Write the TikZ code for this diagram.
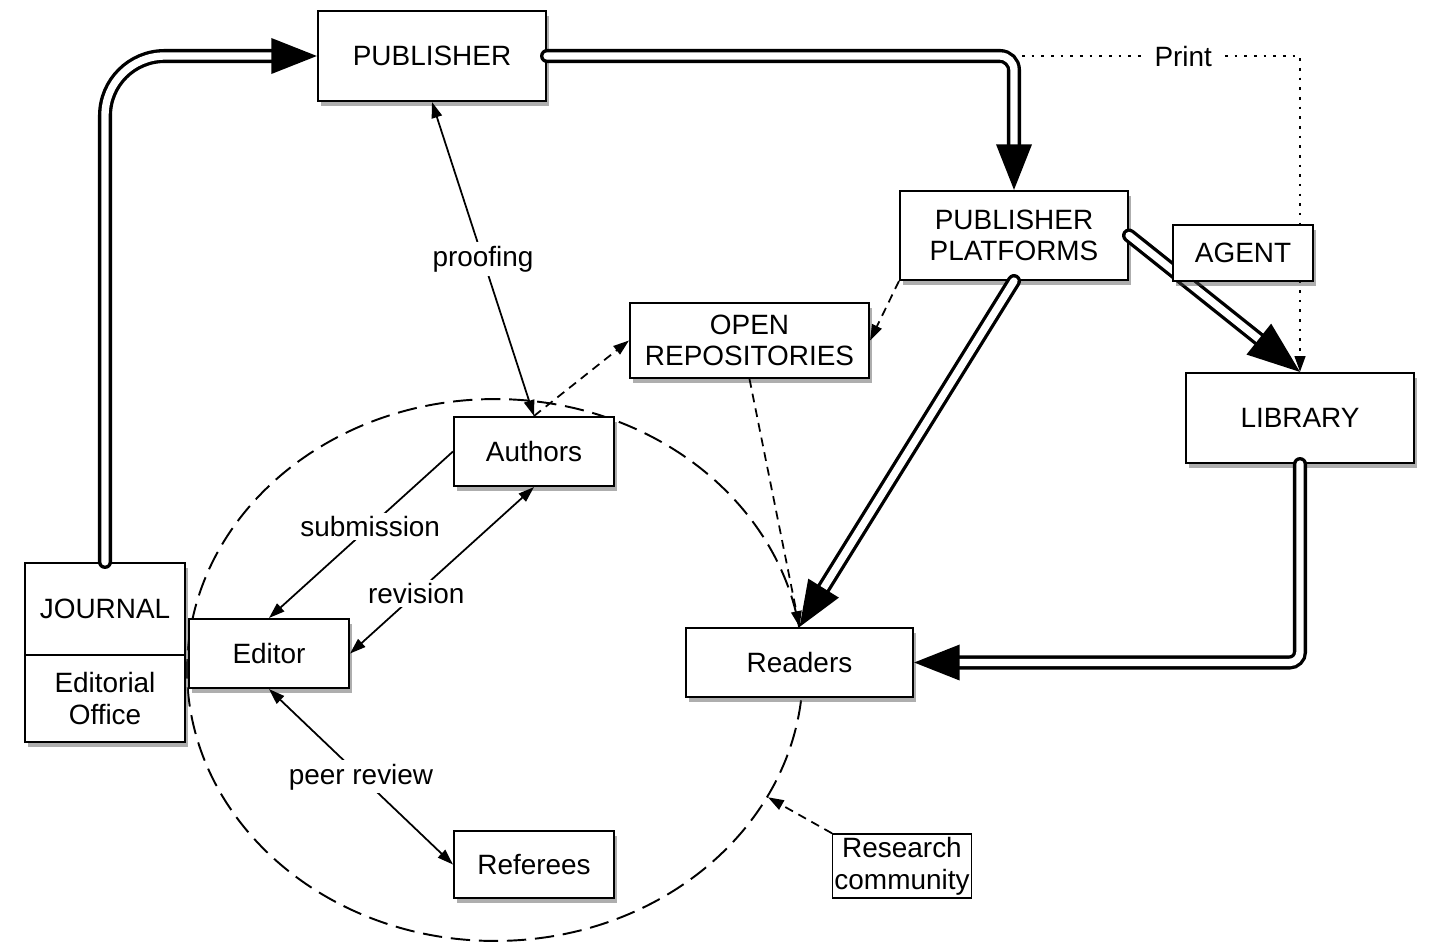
\documentclass[tikz,border=0pt]{standalone}
\usepackage{fontspec}
\setsansfont{Liberation Sans}
\usetikzlibrary{positioning,arrows.meta,shapes.geometric,shadows}
\pgfdeclarelayer{bg}
\pgfsetlayers{bg,main}
\tikzset{
	>={Triangle[length=9pt, width=6pt]}
}

\begin{document}
\begin{tikzpicture}[
	x = 0.02cm, y = -0.02cm,
	every node/.style = {
		font = \sffamily\fontsize{15.9pt}{18pt}\selectfont
	},
	plainbox/.style = {
		draw,
		line width = 1.2pt,
		fill = white,
		align = center
	},
	box/.style = {
		plainbox,
		drop shadow = {shadow xshift = 1.8pt, shadow yshift = -3pt, fill = black!70, opacity = .45}
	},
	pipe/.style = {
		draw,
		double = white,
		double distance = 4.2pt,
		line width = 1.9pt,
		line cap = round,
		-{Triangle[length = 26pt, width = 20pt]}
	},
	flow/.style = {
		draw,
		line width = 1pt
	},
	dashflow/.style = {
		flow,
		dash pattern = on 5pt off 3.5pt
	},
	dotflow/.style = {
		draw,
		line width = 1.4pt,
		dash pattern = on 1.5pt off 4pt
	},
	tag/.style = {
		fill = white,
		inner sep = 2pt
	}
	]
	
	\useasboundingbox (0,0) rectangle (1429,947);
	
	\begin{pgfonlayer}{bg}
		\node (community) [ellipse, draw, line width = 1.1pt, dash pattern = on 11pt off 5pt, minimum width = 12.32cm, minimum height = 10.84cm] at (495,670) {};
	\end{pgfonlayer}
	
	\node (publisher) [box, minimum width = 4.56cm, minimum height = 1.8cm] at (432,56) {PUBLISHER};
	\node (platforms) [box, minimum width = 4.56cm, minimum height = 1.78cm] at (1014,235.5) {PUBLISHER\\PLATFORMS};
	\node (library) [box, minimum width = 4.56cm, minimum height = 1.8cm] at (1300,418) {LIBRARY};
	\node (repos) [box, minimum width = 4.78cm, minimum height = 1.5cm] at (749.5,340.5) {OPEN\\REPOSITORIES};
	\node (authors) [box, minimum width = 3.2cm, minimum height = 1.38cm] at (534,451.5) {Authors};
	
	\node (journal) [box, minimum width = 3.2cm, minimum height = 1.84cm] at (105,609) {JOURNAL};
	\node (office) [box, minimum width = 3.2cm, minimum height = 1.74cm] at (105,698.5) {Editorial\\Office};
	\node (editor) [box, minimum width = 3.2cm, minimum height = 1.38cm] at (269,653.5) {Editor};
	\node (readers) [box, minimum width = 4.54cm, minimum height = 1.38cm] at (799.5,662.5) {Readers};
	\node (referees) [box, minimum width = 3.2cm, minimum height = 1.34cm] at (534,864.5) {Referees};
	\node (research) [plainbox, line width = .8pt, inner sep = 1pt, minimum width = 2.76cm, minimum height = 1.28cm] at (902,866) {Research\\community};
	
	% print and electronic routes
	\draw[pipe, rounded corners = 34pt] (journal.north) |- (publisher.west);
	\draw[pipe, rounded corners = 8pt] (publisher.east) -| (platforms.north);
	\coordinate (printstart) at (1022,56);
	\draw[dotflow, -{Triangle[length = 9pt, width = 6pt]}] (printstart) -| node[tag, inner sep = 6pt, pos = .29] {Print} (library.north);
	\draw[pipe, -{Triangle[length = 30pt, width = 22pt]}] (platforms.east) -- (library.north);
	\draw[pipe] (platforms.south) -- (readers.north);
	\draw[pipe, rounded corners = 6pt] (library.south) |- (readers.east);
	\draw[dashflow, ->] (platforms.south west) -- (repos.east);
	\draw[dashflow, ->] (authors.north) -- (repos.west);
	\draw[dashflow, ->] (repos.south) -- (readers.north);
	
	% editorial loop
	\draw[flow, <->] (publisher.south) -- node[tag] {proofing} (authors.north);
	\draw[flow, ->] (authors.west) -- node[tag, pos = .45] {submission} (editor.north);
	\draw[flow, <->] (editor.east) -- node[tag, pos = .36] {revision} (authors.south);
	\draw[flow, <->] (editor.south) -- node[tag] {peer review} (referees.west);
	\draw[dashflow, ->] (research.north west) -- (community.-25.5);
	
	\node (agent) [box, minimum width = 2.8cm, minimum height = 1.12cm] at (1243,253) {AGENT};
	
\end{tikzpicture}
\end{document}
